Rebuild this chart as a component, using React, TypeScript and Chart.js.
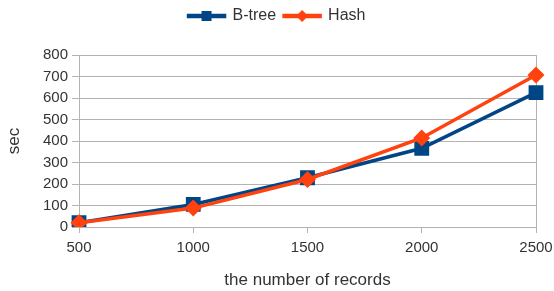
import React, { useEffect, useRef } from "react";
import { Chart, registerables } from "chart.js";

Chart.register(...registerables);

const categories = ["500", "1000", "1500", "2000", "2500"];
const btreeValues = [20, 105, 229, 366, 625];
const hashValues = [20, 88, 221, 414, 707];
const yTicks = [0, 100, 200, 300, 400, 500, 600, 700, 800];

const BLUE = "#004586";
const ORANGE = "#ff420e";
const GRID = "#b3b3b3";
const TEXT = "#333333";
const FONT = "'Liberation Sans', Arial, sans-serif";

const legendSpacing = {
  id: "legendSpacing",
  beforeInit(chart: any) {
    const legend = chart.legend;
    if (!legend) return;
    const orig = legend.fit;
    legend.fit = function () {
      orig.call(this);
      this.height += 21;
    };
  },
};

const legendMarkers = {
  id: "legendMarkers",
  afterDraw(chart: any) {
    const legend = chart.legend;
    if (!legend || !legend.legendHitBoxes) return;
    const ctx = chart.ctx;
    const boxW = legend.options.labels.boxWidth;
    legend.legendHitBoxes.forEach((hb: any, i: number) => {
      const item = legend.legendItems[i];
      const ds = chart.data.datasets[item.datasetIndex];
      const cx = hb.left + boxW / 2;
      const cy = hb.top + hb.height / 2;
      ctx.save();
      ctx.fillStyle = ds.pointBackgroundColor;
      ctx.beginPath();
      if (ds.pointStyle === "rect") {
        ctx.rect(cx - 5, cy - 5, 10, 10);
      } else {
        ctx.moveTo(cx, cy - 6);
        ctx.lineTo(cx + 6, cy);
        ctx.lineTo(cx, cy + 6);
        ctx.lineTo(cx - 6, cy);
        ctx.closePath();
      }
      ctx.fill();
      ctx.restore();
    });
  },
};

export default function App() {
  const ref = useRef<HTMLCanvasElement>(null);
  useEffect(() => {
    document.body.style.margin = "0";
    const chart = new Chart(ref.current!, {
      type: "line",
      data: {
        labels: categories,
        datasets: [
          {
            label: "B-tree",
            data: btreeValues,
            borderColor: BLUE,
            backgroundColor: BLUE,
            pointBackgroundColor: BLUE,
            pointBorderColor: BLUE,
            pointStyle: "rect",
            pointRadius: 8,
            borderWidth: 3.5,
            tension: 0,
            order: 2,
          } as any,
          {
            label: "Hash",
            data: hashValues,
            borderColor: ORANGE,
            backgroundColor: ORANGE,
            pointBackgroundColor: ORANGE,
            pointBorderColor: ORANGE,
            pointStyle: "rectRot",
            pointRadius: 6,
            borderWidth: 3.5,
            tension: 0,
            order: 1,
          } as any,
        ],
      },
      options: {
        animation: false,
        responsive: false,
        layout: { padding: { left: 0, right: 0, top: 0, bottom: 0 } },
        plugins: {
          tooltip: { enabled: false },
          legend: {
            position: "top",
            labels: {
              boxWidth: 36,
              boxHeight: 1,
              padding: 8,
              color: TEXT,
              font: { family: FONT, size: 16 },
              sort: (a: any, b: any) => a.datasetIndex - b.datasetIndex,
            },
          },
        },
        scales: {
          x: {
            type: "category",
            offset: false,
            border: { color: GRID, width: 1 },
            grid: {
              color: (c: any) => (c.index === categories.length - 1 ? GRID : "rgba(0,0,0,0)"),
              tickColor: GRID,
              tickLength: 6,
              drawTicks: true,
            },
            ticks: {
              color: TEXT,
              font: { family: FONT, size: 15 },
              maxRotation: 0,
              padding: 6,
            },
            title: {
              display: true,
              text: "the number of records",
              color: TEXT,
              font: { family: FONT, size: 17 },
              padding: { top: 6, bottom: 0 },
            },
            afterFit: (s: any) => {
              s.height = 64;
              s.paddingRight = 18;
              s.paddingLeft = 0;
            },
          },
          y: {
            min: 0,
            max: 800,
            border: { color: GRID, width: 1 },
            grid: { color: GRID, tickColor: GRID, tickLength: 7 },
            afterBuildTicks: (s: any) => {
              s.ticks = yTicks.map((v) => ({ value: v }));
            },
            ticks: {
              color: TEXT,
              font: { family: FONT, size: 15 },
              padding: 4,
            },
            title: {
              display: true,
              text: "sec",
              color: TEXT,
              font: { family: FONT, size: 17 },
              padding: { top: 4, bottom: 0 },
            },
            afterFit: (s: any) => {
              s.width = 79;
            },
          },
        },
      },
      plugins: [legendSpacing, legendMarkers],
    });
    return () => chart.destroy();
  }, []);
  return (
    <div style={{ width: 554, height: 291, background: "#fff" }}>
      <canvas ref={ref} width={554} height={291} style={{ display: "block" }} />
    </div>
  );
}
